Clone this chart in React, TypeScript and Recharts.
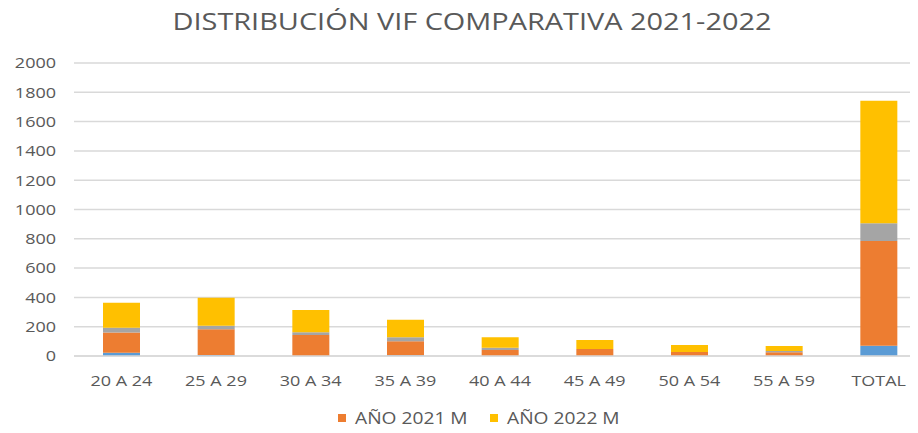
import React from 'react';
import {
  BarChart,
  Bar,
  XAxis,
  YAxis,
  CartesianGrid,
  Legend,
} from 'recharts';

// Distribución VIF comparativa 2021-2022, barras apiladas por grupo de edad

const categories = ['20 A 24', '25 A 29', '30 A 34', '35 A 39', '40 A 44', '45 A 49', '50 A 54', '55 A 59', 'TOTAL'];
const hombres2021 = [22, 6, 0, 5, 0, 0, 0, 0, 70];
const mujeres2021 = [138, 176, 143, 95, 41, 48, 27, 25, 715];
const hombres2022 = [33, 25, 19, 28, 16, 0, 0, 9, 121];
const mujeres2022 = [171, 191, 152, 120, 71, 61, 48, 34, 837];
const yTicks = [0, 200, 400, 600, 800, 1000, 1200, 1400, 1600, 1800, 2000];

const TITLE = 'DISTRIBUCIÓN VIF COMPARATIVA 2021-2022';
const FONT = '"Open Sans", sans-serif';
const TEXT = '#595959';
const GRID = '#d9d9d9';
const SX = 1.2; // las letras del original salen algo estiradas

const data = categories.map((c, i) => ({
  grupo: c,
  h2021: hombres2021[i],
  m2021: mujeres2021[i],
  h2022: hombres2022[i],
  m2022: mujeres2022[i],
}));

function YTick(props: any) {
  const { x, y, payload } = props;
  return (
    <text
      transform={`translate(${x},${y}) scale(${SX},1)`}
      textAnchor="end"
      dy="0.355em"
      fill={TEXT}
      fontSize={15}
      fontFamily={FONT}
    >
      {payload.value}
    </text>
  );
}

function XTick(props: any) {
  const { x, y, payload } = props;
  return (
    <text
      transform={`translate(${x},${y}) scale(${SX},1)`}
      textAnchor="middle"
      dy="0.71em"
      fill={TEXT}
      fontSize={15}
      fontFamily={FONT}
    >
      {payload.value}
    </text>
  );
}

function LegendContent(props: any) {
  const items = (props.payload || []).filter((p: any) => p.type !== 'none');
  return (
    <svg width={926} height={40} style={{ display: 'block' }}>
      {items.map((item: any, i: number) => {
        const x0 = 338 + i * 152;
        return (
          <g key={item.value}>
            <rect x={x0} y={21} width={8} height={8} fill={item.color} />
            <text
              transform={`translate(${x0 + 17},${31}) scale(${SX},1)`}
              fill={TEXT}
              fontSize={16}
              fontFamily={FONT}
            >
              {item.value}
            </text>
          </g>
        );
      })}
    </svg>
  );
}

export default function App() {
  return (
    <div style={{ margin: -8, width: 918, height: 433, overflow: 'hidden', position: 'relative', background: '#fff' }}>
      <svg width={918} height={45} style={{ position: 'absolute', left: 0, top: 0 }}>
        <text
          x={472}
          y={30}
          textAnchor="middle"
          textLength={599}
          lengthAdjust="spacingAndGlyphs"
          fill={TEXT}
          fontSize={24}
          fontFamily={FONT}
        >
          {TITLE}
        </text>
      </svg>
      <BarChart
        width={926}
        height={433}
        data={data}
        margin={{ top: 63, right: 0, left: 0, bottom: 0 }}
        barSize={37}
      >
        <CartesianGrid vertical={false} stroke={GRID} strokeWidth={1.5} />
        <XAxis
          dataKey="grupo"
          axisLine={{ stroke: GRID, strokeWidth: 1.5 }}
          tickLine={false}
          tickMargin={13}
          height={37}
          tick={XTick}
          interval={0}
        />
        <YAxis
          domain={[0, 2000]}
          ticks={yTicks}
          axisLine={false}
          tickLine={false}
          tickMargin={12}
          width={74}
          tick={YTick}
          interval={0}
        />
        <Legend
          verticalAlign="bottom"
          height={40}
          wrapperStyle={{ left: 0, width: 926 }}
          content={LegendContent}
        />
        <Bar dataKey="h2021" name="AÑO 2021 H" stackId="vif" fill="#5b9bd5" legendType="none" isAnimationActive={false} />
        <Bar dataKey="m2021" name="AÑO 2021 M" stackId="vif" fill="#ed7d31" isAnimationActive={false} />
        <Bar dataKey="h2022" name="AÑO 2022 H" stackId="vif" fill="#a5a5a5" legendType="none" isAnimationActive={false} />
        <Bar dataKey="m2022" name="AÑO 2022 M" stackId="vif" fill="#ffc000" isAnimationActive={false} />
      </BarChart>
    </div>
  );
}
